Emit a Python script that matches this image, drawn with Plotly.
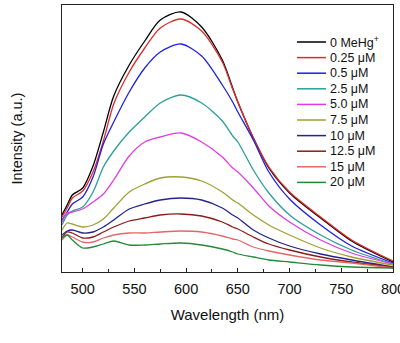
import plotly.graph_objects as go

wavelength = [480, 485, 490, 500, 510, 520, 530, 545, 560, 575, 595, 615, 635, 645, 650, 665, 680, 700, 730, 760, 800]

names = ["0 MeHg<sup>+</sup>", "0.25 μM", "0.5 μM", "2.5 μM", "5.0 μM",
         "7.5 μM", "10 μM", "12.5 μM", "15 μM", "20 μM"]
colors = ["#000000", "#e22a2a", "#2020e0", "#2a9e9a", "#e03ce0",
          "#a0a030", "#24248a", "#8b1c1c", "#e26868", "#238a38"]

x_ticks = [500, 550, 600, 650, 700, 750, 800]

s0    = [57, 67, 77, 84, 106, 140, 176, 207, 231, 252, 260, 245, 212, 184, 170, 134, 104, 79, 54, 31, 10]
s025  = [55, 64, 74, 81, 100, 131, 168, 200, 224, 244, 253, 241, 210, 183, 170, 134, 105, 80, 55, 32, 11]
s05   = [52, 60, 68, 75, 95, 128, 150, 180, 204, 220, 228, 216, 187, 170, 160, 132, 100, 73, 47, 26, 9]
s25   = [47, 57, 61, 65, 80, 105, 121, 140, 155, 169, 177, 169, 151, 136, 130, 102, 79, 57, 37, 22, 8]
s50   = [50, 59, 60, 63, 70, 78, 92, 116, 130, 135, 139, 130, 115, 104, 100, 84, 66, 50, 32, 19, 8]
s75   = [42, 49, 48, 45, 47, 53, 64, 80, 88, 94, 95, 91, 80, 72, 69, 57, 47, 37, 24, 15, 7]
s10   = [37, 41, 42, 39, 40, 45, 52, 63, 68, 72, 74, 72, 64, 57, 54, 42, 34, 26, 18, 12, 5]
s125  = [34, 40, 39, 34, 35, 40, 45, 51, 54, 57, 58, 56, 50, 45, 43, 35, 28, 22, 15, 10, 5]
s15   = [32, 37, 35, 30, 30, 34, 37, 39, 39, 40, 41, 40, 36, 33, 32, 25, 21, 17, 12, 9, 4]
s20   = [34, 37, 32, 24, 25, 28, 31, 27, 27, 28, 29, 27, 23, 20, 18, 15, 12, 10, 7, 5, 4]
series = [s0, s025, s05, s25, s50, s75, s10, s125, s15, s20]

W, H = 400, 343
ML, MR, MT, MB = 62, 7, 5, 71
PW, PH = W - ML - MR, H - MT - MB

def px2paper_x(px):
    return (px - ML) / PW

def px2paper_y(py):
    return (H - MB - py) / PH

fig = go.Figure()
for nm, col, ys in zip(names, colors, series):
    fig.add_trace(go.Scatter(x=wavelength, y=ys, mode="lines", name=nm,
                             line=dict(color=col, width=1.3, shape="spline", smoothing=0.8),
                             showlegend=False))

# custom compact legend
leg_x0, leg_x1, leg_tx, leg_y0, leg_dy = 297, 326, 328, 42, 15.6
for i, (nm, col) in enumerate(zip(names, colors)):
    yy = px2paper_y(leg_y0 + i * leg_dy)
    fig.add_shape(type="line", xref="paper", yref="paper",
                  x0=px2paper_x(leg_x0), x1=px2paper_x(leg_x1), y0=yy, y1=yy,
                  line=dict(color=col, width=1.5))
    fig.add_annotation(xref="paper", yref="paper", x=px2paper_x(leg_tx), y=yy,
                       text=nm, showarrow=False, xanchor="left", yanchor="middle",
                       font=dict(size=12.5, color="#111111", family="Arial, Liberation Sans"))

fig.update_layout(
    width=W, height=H,
    margin=dict(l=ML, r=MR, t=MT, b=MB, autoexpand=False),
    paper_bgcolor="white", plot_bgcolor="white",
    font=dict(family="Arial, Liberation Sans", color="#111111"),
    xaxis=dict(range=[480, 800], tickmode="array", tickvals=x_ticks,
               ticktext=[str(v) for v in x_ticks], ticklabeloverflow="allow",
               automargin=False,
               ticks="inside", ticklen=4, tickcolor="#222", tickwidth=1,
               minor=dict(ticks="inside", ticklen=3, dtick=25, tick0=475, tickcolor="#222"),
               showline=True, linecolor="#222", linewidth=1, mirror=True,
               showgrid=False, zeroline=False, ticklabelstandoff=4,
               tickfont=dict(size=14.5),
               title=dict(text="Wavelength (nm)", font=dict(size=15), standoff=13)),
    yaxis=dict(range=[0, 267], showticklabels=False, ticks="", automargin=False,
               showline=True, linecolor="#222", linewidth=1, mirror=True,
               showgrid=False, zeroline=False,
               title=dict(text="Intensity (a.u.)", font=dict(size=14.5), standoff=34)),
)

fig.write_html("out.html")
